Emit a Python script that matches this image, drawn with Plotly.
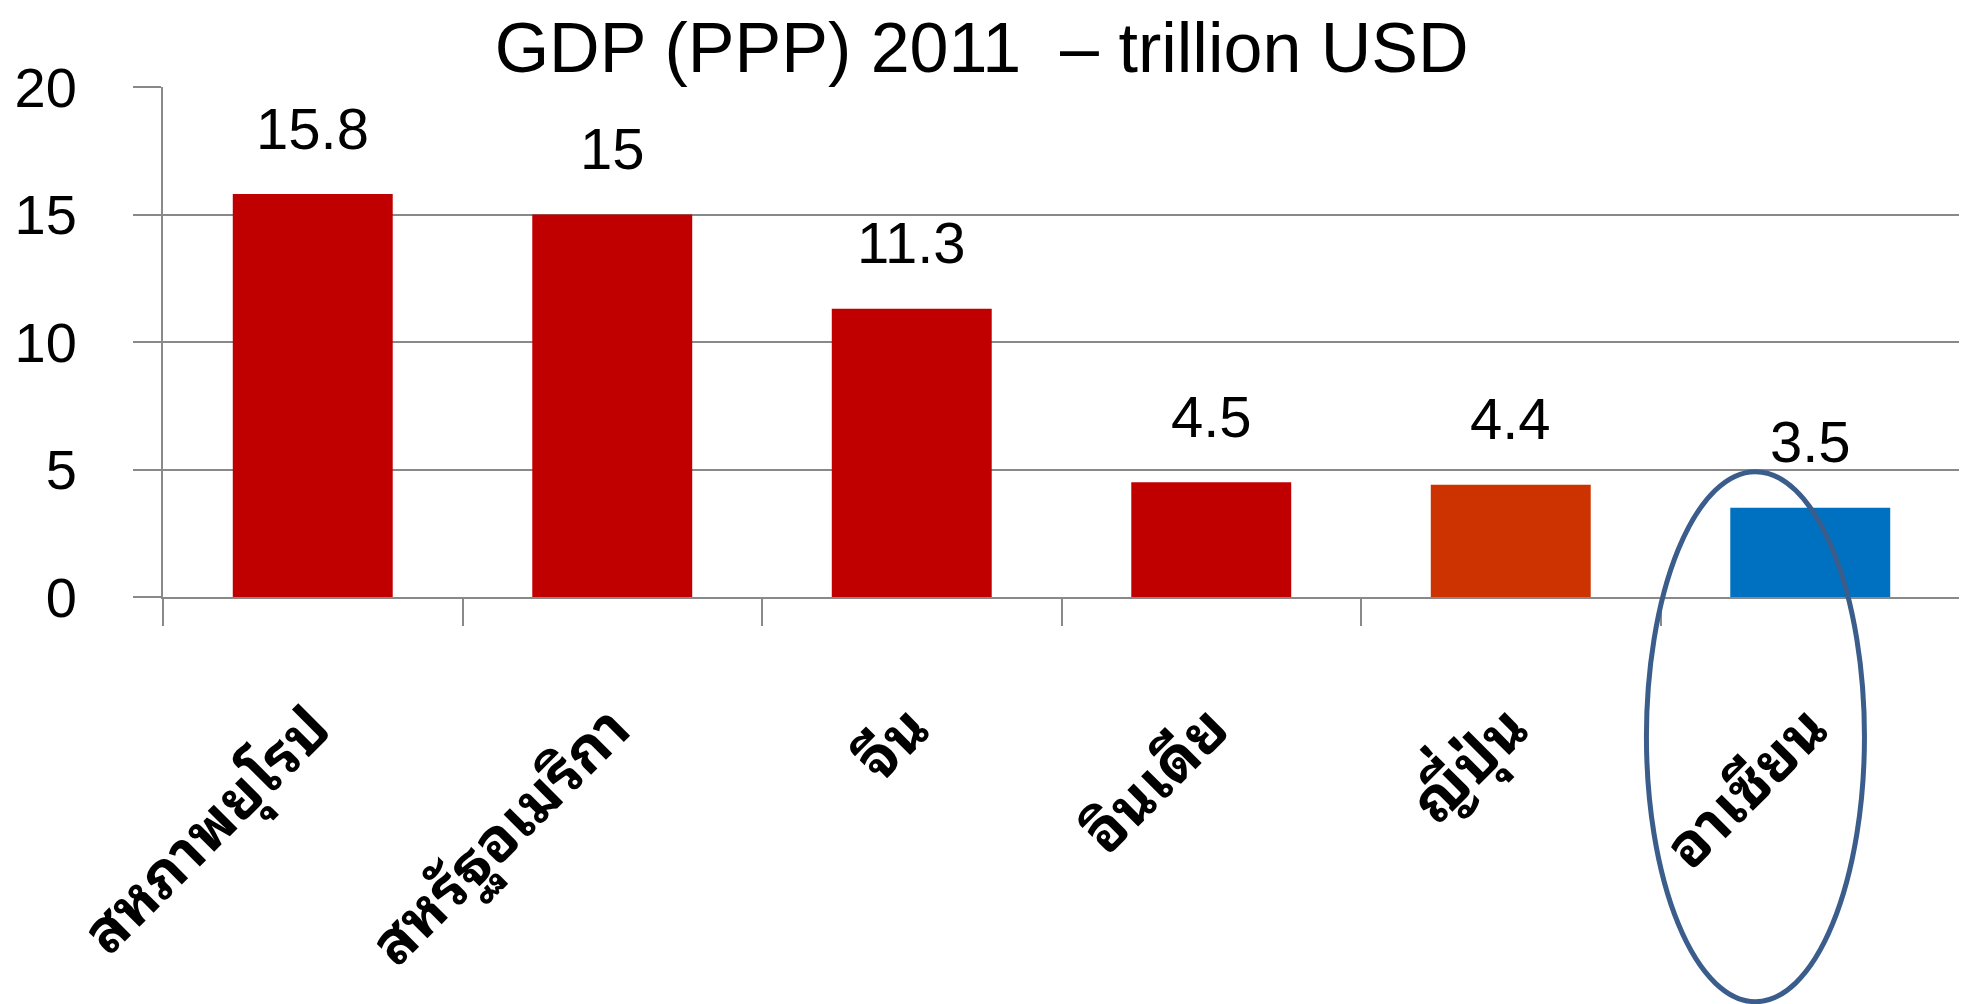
import plotly.graph_objects as go

categories = ["สหภาพยุโรป", "สหรัฐอเมริกา", "จีน", "อินเดีย", "ญี่ปุ่น", "อาเซียน"]
gdp_ppp = [15.8, 15, 11.3, 4.5, 4.4, 3.5]
value_labels = ["15.8", "15", "11.3", "4.5", "4.4", "3.5"]
bar_colors = ["#C00000", "#C00000", "#C00000", "#C00000", "#CC3300", "#0070C0"]
y_ticks = [0, 5, 10, 15, 20]

GRID = "#898989"
FONT = "Liberation Sans, Arial, Helvetica, sans-serif"
THAI_FONT = ("Noto Sans Thai Looped, Tahoma, Leelawadee UI, Garuda, Loma, Waree, "
             "Noto Sans Thai, Noto Sans, sans-serif")

fig = go.Figure()
fig.add_trace(go.Bar(
    x=categories,
    y=gdp_ppp,
    marker=dict(color=bar_colors, line=dict(width=0)),
    width=0.534,
    showlegend=False,
))

for c, v, t in zip(categories, gdp_ppp, value_labels):
    fig.add_annotation(
        x=c, y=v, text=t, showarrow=False,
        xanchor="center", yanchor="middle", yshift=66,
        font=dict(family=FONT, size=58, color="black"),
    )

# ellipse highlighting ASEAN
fig.add_shape(
    type="circle", xref="x", yref="paper",
    x0=4.453, x1=5.181, y0=-0.7935, y1=0.2457,
    line=dict(color="#3A5D8B", width=5), layer="above",
)

# page body has an 8px default margin; figure is sized to fill the rest
fig.update_layout(
    width=1959, height=996,
    margin=dict(l=155, r=7, t=79, b=407, pad=0),
    paper_bgcolor="white", plot_bgcolor="white",
    title=dict(
        text="GDP (PPP) 2011 \u00a0– trillion USD",
        x=0.497, xref="container", xanchor="center",
        y=0.96, yref="container", yanchor="middle",
        font=dict(family=FONT, size=70, color="black"),
    ),
)

fig.update_yaxes(
    range=[0, 20], tickvals=y_ticks, ticktext=[str(v) for v in y_ticks],
    showgrid=True, gridcolor=GRID, gridwidth=2,
    zeroline=False,
    showline=True, linecolor=GRID, linewidth=2,
    ticks="outside", ticklen=28, tickwidth=2, tickcolor=GRID,
    ticklabelstandoff=45,
    tickfont=dict(family=FONT, size=56, color="black"),
    fixedrange=True,
)
fig.update_xaxes(
    type="category",
    showgrid=False, zeroline=False,
    showline=True, linecolor=GRID, linewidth=2,
    ticks="outside", tickson="boundaries", ticklen=27, tickwidth=2, tickcolor=GRID,
    tickangle=-45, ticklabelstandoff=70,
    tickfont=dict(family=THAI_FONT, size=60, color="black", weight="bold"),
    fixedrange=True,
)

fig.write_html("out.html")
